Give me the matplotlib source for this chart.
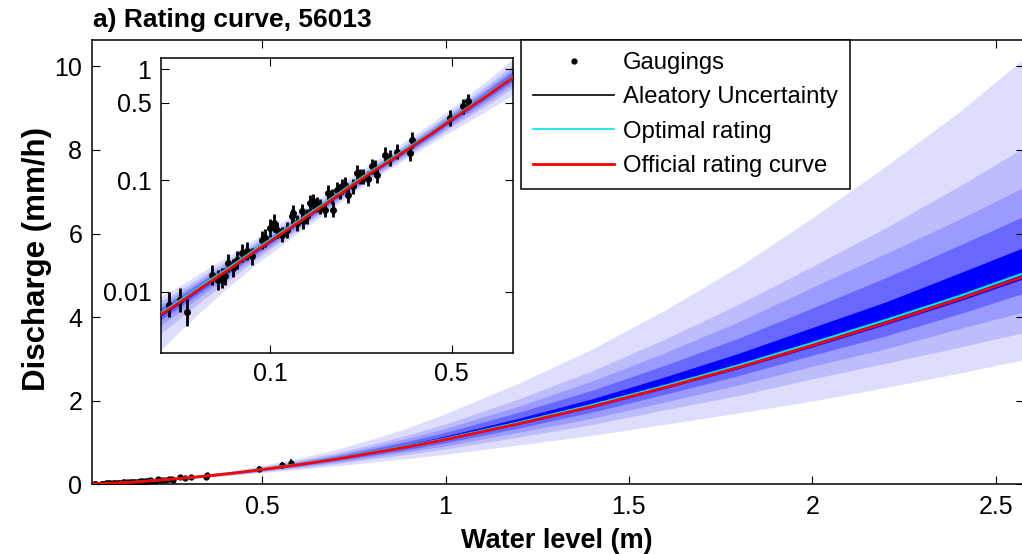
import numpy as np
import matplotlib
matplotlib.use("Agg")
import matplotlib.pyplot as plt
from matplotlib.lines import Line2D

plt.rcParams['font.family'] = ['Liberation Sans', 'DejaVu Sans']

# ---------------- data ----------------
h_grid = [0.038, 0.045, 0.055, 0.07, 0.09, 0.12, 0.16, 0.2, 0.25, 0.3, 0.35, 0.42, 0.5,
          0.6, 0.7, 0.8, 0.9, 1.0, 1.2, 1.4, 1.6, 1.8, 2.0, 2.2, 2.4, 2.58]
q_official = [0.0062, 0.0080, 0.0110, 0.0160, 0.0240, 0.0375, 0.059, 0.085, 0.121, 0.158,
              0.200, 0.265, 0.352, 0.47, 0.60, 0.75, 0.90, 1.07, 1.45, 1.86, 2.32, 2.80,
              3.32, 3.86, 4.43, 4.98]
q_optimal = [0.0064, 0.0083, 0.0114, 0.0166, 0.0249, 0.0388, 0.061, 0.088, 0.125, 0.163,
             0.206, 0.272, 0.361, 0.482, 0.615, 0.768, 0.92, 1.09, 1.48, 1.90, 2.36, 2.85,
             3.38, 3.93, 4.50, 5.06]

# band edges as multiples of the official curve (5 nested uncertainty levels)
band_up = [
    [1.45, 1.41, 1.37, 1.33, 1.29, 1.25, 1.22, 1.21, 1.21, 1.22, 1.23, 1.25, 1.28, 1.33, 1.38,
     1.44, 1.51, 1.58, 1.67, 1.74, 1.80, 1.86, 1.92, 1.97, 2.01, 2.05],
    [1.32, 1.29, 1.26, 1.23, 1.20, 1.17, 1.15, 1.14, 1.14, 1.14, 1.15, 1.17, 1.19, 1.22, 1.25,
     1.28, 1.32, 1.35, 1.41, 1.46, 1.50, 1.54, 1.57, 1.59, 1.61, 1.62],
    [1.23, 1.21, 1.19, 1.17, 1.15, 1.13, 1.11, 1.10, 1.10, 1.10, 1.11, 1.12, 1.14, 1.16, 1.18,
     1.20, 1.23, 1.25, 1.29, 1.33, 1.36, 1.39, 1.42, 1.43, 1.43, 1.43],
    [1.15, 1.14, 1.13, 1.12, 1.10, 1.09, 1.08, 1.07, 1.07, 1.07, 1.07, 1.08, 1.09, 1.10, 1.12,
     1.13, 1.15, 1.16, 1.19, 1.21, 1.23, 1.25, 1.27, 1.28, 1.29, 1.29],
    [1.07, 1.07, 1.06, 1.06, 1.05, 1.05, 1.04, 1.04, 1.04, 1.04, 1.04, 1.04, 1.05, 1.05, 1.06,
     1.07, 1.07, 1.08, 1.09, 1.10, 1.11, 1.12, 1.13, 1.13, 1.14, 1.14],
]
band_lo = [
    [0.48, 0.55, 0.62, 0.70, 0.76, 0.80, 0.83, 0.84, 0.85, 0.85, 0.84, 0.82, 0.79, 0.76, 0.73,
     0.71, 0.69, 0.67, 0.65, 0.63, 0.62, 0.61, 0.60, 0.60, 0.60, 0.60],
    [0.68, 0.72, 0.76, 0.80, 0.84, 0.87, 0.88, 0.89, 0.89, 0.89, 0.88, 0.87, 0.86, 0.84, 0.82,
     0.81, 0.80, 0.79, 0.78, 0.77, 0.77, 0.76, 0.76, 0.75, 0.74, 0.73],
    [0.81, 0.83, 0.85, 0.87, 0.89, 0.90, 0.91, 0.92, 0.92, 0.92, 0.92, 0.91, 0.90, 0.89, 0.88,
     0.87, 0.87, 0.86, 0.86, 0.85, 0.85, 0.85, 0.85, 0.84, 0.84, 0.83],
    [0.90, 0.91, 0.92, 0.93, 0.94, 0.95, 0.95, 0.95, 0.96, 0.96, 0.95, 0.95, 0.95, 0.94, 0.94,
     0.93, 0.93, 0.93, 0.93, 0.93, 0.93, 0.93, 0.93, 0.92, 0.92, 0.92],
    [0.97, 0.97, 0.98, 0.98, 0.98, 0.98, 0.99, 0.99, 0.99, 0.99, 0.99, 0.99, 0.99, 0.99, 0.99,
     0.99, 0.99, 0.99, 0.99, 0.99, 0.99, 0.99, 0.99, 0.99, 0.99, 0.99],
]

gauge_h = [0.0410, 0.0451, 0.0481, 0.0597, 0.0633, 0.0652, 0.0671, 0.0691, 0.0723, 0.0749,
           0.0778, 0.0814, 0.0850, 0.0929, 0.0957, 0.1000, 0.1036, 0.1061, 0.1109, 0.1159,
           0.1211, 0.1229, 0.1266, 0.1324, 0.1343, 0.1384, 0.1425, 0.1468, 0.1512, 0.1557,
           0.1627, 0.1676, 0.1727, 0.1752, 0.1805, 0.1858, 0.1886, 0.1943, 0.2001, 0.2092,
           0.2154, 0.2219, 0.2286, 0.2389, 0.2460, 0.2534, 0.2572, 0.2769, 0.2894, 0.3071,
           0.3506, 0.3455, 0.4925, 0.5540, 0.5790]
gauge_q = [0.00762, 0.00845, 0.00650, 0.0142, 0.0128, 0.0132, 0.0137, 0.0181, 0.0163, 0.0194,
           0.0222, 0.0230, 0.0207, 0.0293, 0.0303, 0.0373, 0.0414, 0.0360, 0.0325, 0.0360,
           0.0475, 0.0509, 0.0414, 0.0527, 0.0428, 0.0475, 0.0627, 0.0649, 0.0605, 0.0585,
           0.0546, 0.0771, 0.0719, 0.0546, 0.0826, 0.0798, 0.0885, 0.0916, 0.0744, 0.0885,
           0.1165, 0.1087, 0.1087, 0.1040, 0.1337, 0.1290, 0.1125, 0.1700, 0.1590, 0.1820,
           0.2320, 0.1760, 0.3640, 0.4630, 0.5140]
# relative (log10) half-width of gauging error bars
gauge_unc = [0.11, 0.11, 0.12, 0.09, 0.09, 0.09, 0.08, 0.08, 0.08, 0.08,
             0.08, 0.08, 0.08, 0.08, 0.08, 0.08, 0.08, 0.07, 0.07, 0.07,
             0.07, 0.07, 0.07, 0.07, 0.07, 0.07, 0.07, 0.07, 0.07, 0.07,
             0.07, 0.07, 0.07, 0.07, 0.07, 0.07, 0.07, 0.07, 0.07, 0.07,
             0.07, 0.07, 0.07, 0.07, 0.07, 0.07, 0.07, 0.07, 0.07, 0.07,
             0.07, 0.07, 0.07, 0.07, 0.07]

band_colors = ['#dedefc', '#bdbdfc', '#9b9bfd', '#6868fe', '#0000fe']

# ---------------- figure ----------------
W, H = 1022, 554
fig = plt.figure(figsize=(W / 100, H / 100), dpi=100)

def fx(px):
    return px / W

def fy(py):
    return 1 - py / H

h = np.array(h_grid)
qo = np.array(q_official)
qp = np.array(q_optimal)
gh = np.array(gauge_h)
gq = np.array(gauge_q)
gu = np.array(gauge_unc)
g_lo = gq - gq / 10 ** gu
g_hi = gq * 10 ** gu - gq


def draw_content(ax, msize, elw):
    for up, lo, c in zip(band_up, band_lo, band_colors):
        ax.fill_between(h, qo * np.array(lo), qo * np.array(up), color=c, lw=0, zorder=1)
    ax.errorbar(gh, gq, yerr=[g_lo, g_hi], fmt='o', color='k', ms=msize, elinewidth=elw,
                capsize=0, zorder=3)
    ax.plot(h, qp, color='#00e5ee', lw=1.6, zorder=4)
    ax.plot(h, qo, color='#ff0000', lw=2.0, zorder=5)


def style(ax, xpad, ypad):
    ax.tick_params(direction='in', length=5.5, width=0.8, top=True, right=True,
                   labelsize=18)
    ax.tick_params(axis='x', pad=xpad)
    ax.tick_params(axis='y', pad=ypad)
    for s in ax.spines.values():
        s.set_linewidth(1.1)


# main axes
ax = fig.add_axes([fx(92), fy(484.3), fx(1023.5) - fx(92), fy(40) - fy(484.3)])
draw_content(ax, 3.5, 1.2)
ax.set_xlim(0.036, 2.576)
ax.set_ylim(0, 10.63)
ax.set_xticks([0.5, 1, 1.5, 2, 2.5])
ax.set_xticklabels(['0.5', '1', '1.5', '2', '2.5'])
ax.set_yticks([0, 2, 4, 6, 8, 10])
ax.set_yticklabels(['0', '2', '4', '6', '8', '10'])
style(ax, 8, 7)

fig.text(fx(557), fy(541), 'Water level (m)', ha='center', va='center',
         fontsize=19.5, fontweight='bold')
fig.text(fx(37), fy(259), 'Discharge (mm/h)', ha='center', va='center', rotation=90,
         fontsize=22.5, fontweight='bold')
fig.text(fx(93), fy(27), 'a) Rating curve, 56013', ha='left', va='baseline',
         fontsize=19, fontweight='bold')

handles = [
    Line2D([], [], ls='none', marker='.', color='k', ms=7),
    Line2D([], [], color='k', lw=1.2),
    Line2D([], [], color='#00e5ee', lw=1.2),
    Line2D([], [], color='#ff0000', lw=2.0),
]
labels = ['Gaugings', 'Aleatory Uncertainty', 'Optimal rating', 'Official rating curve']
leg = ax.legend(handles, labels, loc='upper left', bbox_to_anchor=(fx(521), fy(40)),
                bbox_transform=fig.transFigure, borderaxespad=0, fontsize=17.2,
                frameon=True, fancybox=False, framealpha=1, edgecolor='k',
                handlelength=3.4, handletextpad=0.38, labelspacing=0.52,
                borderpad=0.5)
leg.get_frame().set_linewidth(1.1)
leg.set_zorder(10)

# inset axes (log-log)
ins = fig.add_axes([fx(161), fy(352.7), fx(513.3) - fx(161), fy(58.3) - fy(352.7)])
ins.set_xscale('log')
ins.set_yscale('log')
draw_content(ins, 4.0, 2.0)
ins.set_xlim(0.0381, 0.863)
ins.set_ylim(0.00282, 1.256)
ins.set_xticks([0.1, 0.5])
ins.set_xticklabels(['0.1', '0.5'])
ins.set_yticks([0.01, 0.1, 0.5, 1])
ins.set_yticklabels(['0.01', '0.1', '0.5', '1'])
ins.minorticks_off()
style(ins, 7, 7)
ins.set_facecolor('white')

fig.savefig('out.png', dpi=100)
